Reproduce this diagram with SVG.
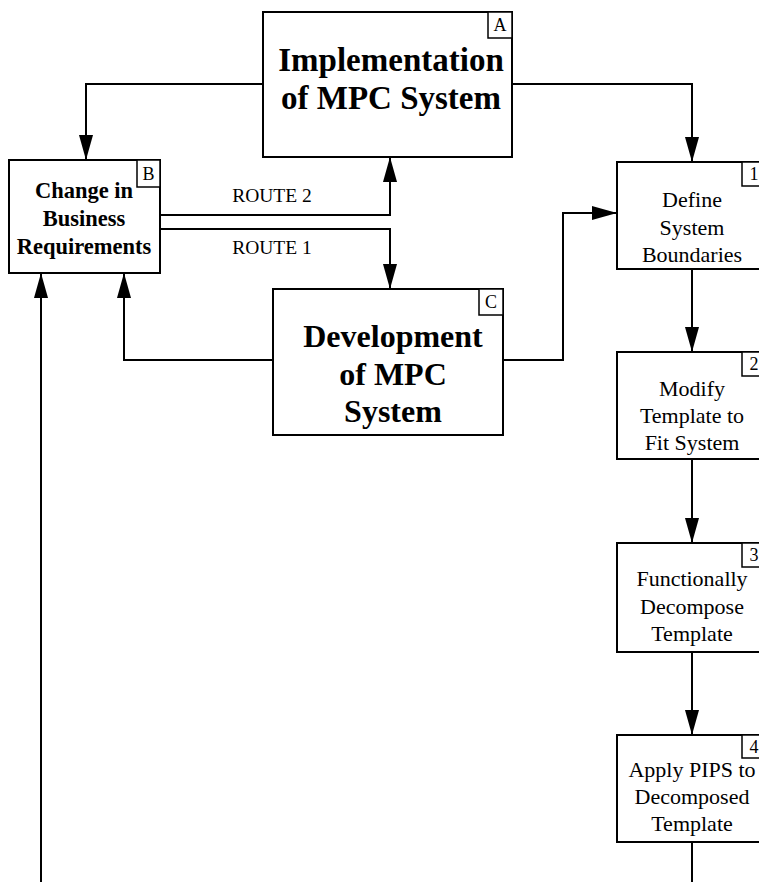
<svg xmlns="http://www.w3.org/2000/svg" width="759" height="882" viewBox="0 0 759 882">
  <style>
    .box { fill: #fff; stroke: #000; stroke-width: 2; }
    .tag { fill: #fff; stroke: #000; stroke-width: 1.5; }
    .tagtxt { font-family: "Liberation Serif", "Times New Roman", serif; font-size: 18px; text-anchor: middle; fill: #000; }
    .big { font-family: "Liberation Serif", "Times New Roman", serif; font-size: 32px; font-weight: bold; text-anchor: middle; fill: #000; }
    .mid { font-family: "Liberation Serif", "Times New Roman", serif; font-size: 22.5px; font-weight: bold; text-anchor: middle; fill: #000; }
    .step { font-family: "Liberation Serif", "Times New Roman", serif; font-size: 22px; text-anchor: middle; fill: #000; }
    .route { font-family: "Liberation Serif", "Times New Roman", serif; font-size: 19.5px; text-anchor: middle; fill: #000; }
    .wire { fill: none; stroke: #000; stroke-width: 2; marker-end: url(#head); }
    .plain { fill: none; stroke: #000; stroke-width: 2; }
  </style>
  <defs>
    <marker id="head" markerUnits="userSpaceOnUse" markerWidth="25" markerHeight="14" refX="25" refY="7" orient="auto">
      <path d="M0,0 L25,7 L0,14 Z" fill="#000"/>
    </marker>
  </defs>

  <rect width="759" height="882" fill="#fff"/>

  <!-- connectors -->
  <g id="connectors">
    <path class="wire" d="M263,84 H86 V160"/>
    <path class="wire" d="M512,84 H692 V162"/>
    <path class="wire" d="M160,215 H390 V157"/>
    <path class="wire" d="M160,229 H390 V289"/>
    <path class="wire" d="M273,360 H124 V273"/>
    <path class="wire" d="M503,360 H563 V213 H617"/>
    <path class="wire" d="M692,269 V352"/>
    <path class="wire" d="M692,459 V543"/>
    <path class="wire" d="M692,652 V735"/>
    <path class="plain" d="M692,842 V882"/>
    <path class="wire" d="M41,882 V273"/>
    <text class="route" x="272" y="202">ROUTE 2</text>
    <text class="route" x="272" y="254">ROUTE 1</text>
  </g>

  <!-- context boxes -->
  <g id="node-A">
    <rect class="box" x="263" y="12" width="249" height="145"/>
    <rect class="tag" x="488" y="12" width="24" height="26"/>
    <text class="tagtxt" x="500" y="31">A</text>
    <text class="big" x="391" y="71" style="font-size:33px">Implementation</text>
    <text class="big" x="391" y="109" style="font-size:33px">of MPC System</text>
  </g>

  <g id="node-B">
    <rect class="box" x="9" y="160" width="151" height="113"/>
    <rect class="tag" x="137" y="160" width="23" height="27"/>
    <text class="tagtxt" x="148.5" y="180">B</text>
    <text class="mid" x="84" y="198">Change in</text>
    <text class="mid" x="84" y="226">Business</text>
    <text class="mid" x="84" y="254">Requirements</text>
  </g>

  <g id="node-C">
    <rect class="box" x="273" y="289" width="230" height="146"/>
    <rect class="tag" x="479" y="289" width="24" height="26"/>
    <text class="tagtxt" x="491" y="308">C</text>
    <text class="big" x="393" y="347">Development</text>
    <text class="big" x="393" y="385">of MPC</text>
    <text class="big" x="393" y="422">System</text>
  </g>

  <!-- process steps -->
  <g id="step-1">
    <rect class="box" x="617" y="162" width="149" height="107"/>
    <rect class="tag" x="742" y="162" width="24" height="24"/>
    <text class="tagtxt" x="754" y="180">1</text>
    <text class="step" x="692" y="207">Define</text>
    <text class="step" x="692" y="235">System</text>
    <text class="step" x="692" y="262">Boundaries</text>
  </g>

  <g id="step-2">
    <rect class="box" x="617" y="352" width="149" height="107"/>
    <rect class="tag" x="742" y="352" width="24" height="24"/>
    <text class="tagtxt" x="754" y="370">2</text>
    <text class="step" x="692" y="396">Modify</text>
    <text class="step" x="692" y="423">Template to</text>
    <text class="step" x="692" y="450">Fit System</text>
  </g>

  <g id="step-3">
    <rect class="box" x="617" y="543" width="149" height="109"/>
    <rect class="tag" x="742" y="543" width="24" height="24"/>
    <text class="tagtxt" x="754" y="561">3</text>
    <text class="step" x="692" y="586">Functionally</text>
    <text class="step" x="692" y="614">Decompose</text>
    <text class="step" x="692" y="641">Template</text>
  </g>

  <g id="step-4">
    <rect class="box" x="617" y="735" width="149" height="107"/>
    <rect class="tag" x="742" y="735" width="24" height="23"/>
    <text class="tagtxt" x="754" y="753">4</text>
    <text class="step" x="692" y="777">Apply PIPS to</text>
    <text class="step" x="692" y="804">Decomposed</text>
    <text class="step" x="692" y="831">Template</text>
  </g>
</svg>
